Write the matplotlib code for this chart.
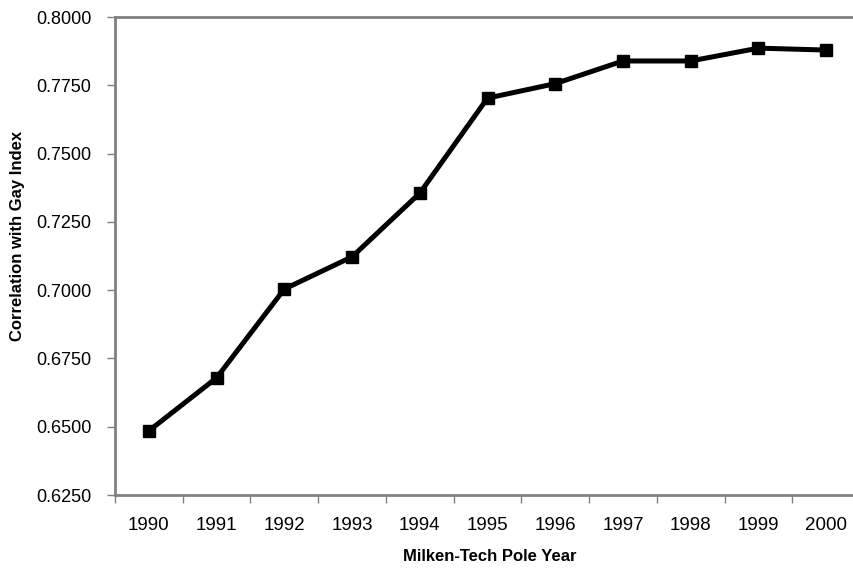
import matplotlib.pyplot as plt
from matplotlib.ticker import FixedLocator

plt.rcParams['font.family'] = ['Liberation Sans', 'DejaVu Sans']

years = ['1990', '1991', '1992', '1993', '1994', '1995',
         '1996', '1997', '1998', '1999', '2000']
correlation = [0.6485, 0.6679, 0.7004, 0.7122, 0.7355, 0.7703,
               0.7756, 0.7839, 0.7839, 0.7886, 0.7879]
y_ticks = [0.625, 0.650, 0.675, 0.700, 0.725, 0.750, 0.775, 0.800]

fig = plt.figure(figsize=(8.54, 5.72), dpi=100)
# plot area runs past the right edge of the picture, as in the original
ax = fig.add_axes([115 / 854, 77 / 572, 745 / 854, 478 / 572])

x = list(range(len(years)))
ax.plot(x, correlation, color='black', linewidth=3.6, marker='s',
        markersize=8.5, markerfacecolor='black', markeredgecolor='black')

ax.set_xlim(-0.5, len(years) - 0.5)
ax.set_ylim(0.625, 0.800)

ax.set_yticks(y_ticks)
ax.set_yticklabels(['%.4f' % v for v in y_ticks])
ax.set_xticks(x)
ax.set_xticklabels(years)
ax.xaxis.set_minor_locator(FixedLocator([i - 0.5 for i in range(len(years) + 1)]))

ax.tick_params(axis='x', which='major', length=0, pad=16, labelsize=13.5)
ax.tick_params(axis='x', which='minor', length=6, width=1, color='#808080')
ax.tick_params(axis='y', length=6, width=1, color='#808080', pad=11, labelsize=13)

for side in ['left', 'bottom', 'top']:
    ax.spines[side].set_color('#808080')
    ax.spines[side].set_linewidth(2)
ax.spines['right'].set_visible(False)

ax.set_xlabel('Milken-Tech Pole Year', fontsize=12, fontweight='bold')
ax.set_ylabel('Correlation with Gay Index', fontsize=12, fontweight='bold')
ax.xaxis.set_label_coords((490 - 115) / 745, -(549 - 495) / 478)
ax.yaxis.set_label_coords(-(115 - 25) / 745, (572 - 236 - 77) / 478)

fig.savefig('out.png', dpi=100)
